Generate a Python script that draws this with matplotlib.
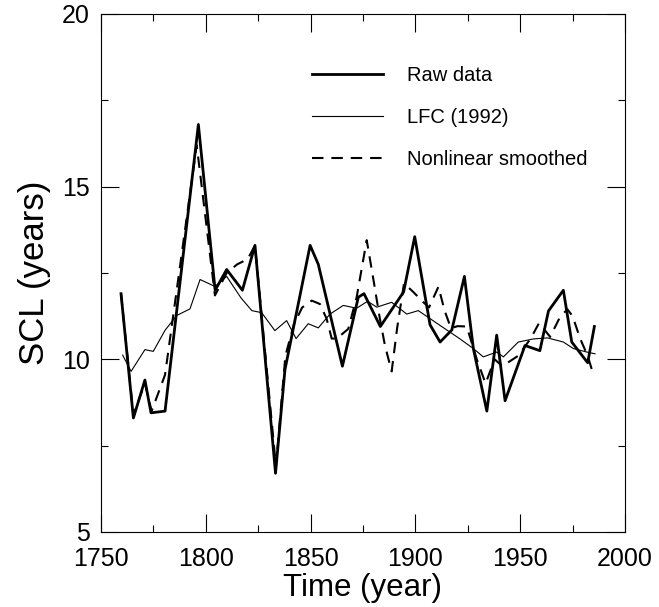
import matplotlib
matplotlib.use("Agg")
import matplotlib.pyplot as plt
from matplotlib.ticker import MultipleLocator

matplotlib.rcParams['font.family'] = ['Liberation Sans', 'DejaVu Sans']

# raw solar cycle length series
raw_year = [1759.6, 1765.5, 1771.0, 1773.9, 1780.6, 1796.5, 1804.5, 1810.0,
            1817.5, 1823.5, 1833.3, 1837.8, 1849.8, 1853.7, 1865.2, 1872.8,
            1875.5, 1883.3, 1894.4, 1899.7, 1907.0, 1911.8, 1917.4, 1923.4,
            1927.7, 1934.1, 1938.8, 1942.8, 1952.3, 1959.4, 1963.5, 1970.6,
            1974.6, 1982.2, 1985.4]
raw = [11.9, 8.3, 9.4, 8.45, 8.5, 16.8, 12.0, 12.6,
       12.0, 13.3, 6.7, 9.7, 13.3, 12.75, 9.8, 11.8,
       11.9, 10.95, 11.95, 13.55, 11.0, 10.5, 10.85, 12.4,
       10.3, 8.5, 10.7, 8.8, 10.4, 10.25, 11.4, 12.0,
       10.5, 9.9, 10.95]

# LFC (1992)
lfc_year = [1760.4, 1764.4, 1771.0, 1775.0, 1780.6, 1786.2, 1792.5, 1797.3,
            1804.4, 1810.0, 1816.8, 1822.0, 1826.7, 1833.0, 1838.6, 1843.1,
            1848.9, 1853.7, 1859.3, 1865.6, 1872.0, 1877.2, 1881.6, 1888.7,
            1895.9, 1901.4, 1911.8, 1921.3, 1927.7, 1932.4, 1938.8, 1942.0,
            1949.1, 1956.3, 1963.0, 1970.6, 1975.4, 1981.8, 1985.7]
lfc = [10.12, 9.65, 10.28, 10.23, 10.84, 11.27, 11.46, 12.31,
       12.11, 12.4, 11.78, 11.41, 11.35, 10.83, 11.12, 10.6,
       11.03, 10.91, 11.31, 11.56, 11.48, 11.68, 11.51, 11.65,
       11.31, 11.41, 10.98, 10.59, 10.31, 10.07, 10.21, 10.07,
       10.5, 10.59, 10.62, 10.5, 10.31, 10.21, 10.16]

# nonlinear smoothed
nls_year = [1759.6, 1765.5, 1771.0, 1774.2, 1780.6, 1795.7, 1804.4, 1810.0,
            1815.0, 1820.0, 1823.5, 1833.5, 1838.0, 1842.0, 1846.0, 1850.6,
            1854.5, 1857.7, 1860.1, 1862.5, 1868.0, 1872.0, 1876.8, 1880.3,
            1883.0, 1885.5, 1888.7, 1891.3, 1894.6, 1899.0, 1903.0, 1906.5,
            1911.0, 1914.0, 1917.0, 1920.1, 1924.5, 1929.3, 1933.5, 1937.8,
            1941.5, 1949.0, 1955.0, 1959.0, 1964.3, 1968.8, 1972.5, 1975.0,
            1978.6, 1982.2, 1984.2]
nls = [11.9, 8.4, 9.3, 8.5, 9.55, 16.2, 11.85, 12.5,
       12.75, 12.9, 13.3, 6.9, 10.1, 11.0, 11.5, 11.7,
       11.6, 11.17, 10.6, 10.6, 10.88, 11.8, 13.45, 12.2,
       11.2, 10.4, 9.65, 10.9, 12.2, 11.95, 11.7, 11.5,
       12.1, 11.4, 10.9, 10.96, 10.95, 10.0, 9.3, 10.0,
       9.8, 10.1, 10.6, 11.05, 10.65, 11.2, 11.45, 11.25,
       10.6, 10.1, 9.7]

fig = plt.figure(figsize=(6.59, 6.07), dpi=100)
ax = fig.add_axes([0.1531, 0.1236, 0.7953, 0.8534])

ax.plot(raw_year, raw, color="black", lw=2.0, label="Raw data")
ax.plot(lfc_year, lfc, color="black", lw=0.8, label="LFC (1992)")
ax.plot(nls_year, nls, color="black", lw=1.5, dashes=(5.5, 3.8),
        label="Nonlinear smoothed")

ax.set_xlim(1750, 2000)
ax.set_ylim(5, 20)
ax.xaxis.set_major_locator(MultipleLocator(50))
ax.xaxis.set_minor_locator(MultipleLocator(25))
ax.yaxis.set_major_locator(MultipleLocator(5))
ax.yaxis.set_minor_locator(MultipleLocator(2.5))

ax.tick_params(which="both", direction="in", top=True, right=True,
               width=0.8, labelsize=18)
ax.tick_params(which="major", length=13)
ax.tick_params(which="minor", length=5)
ax.tick_params(axis="x", which="major", pad=11)
ax.tick_params(axis="y", which="major", pad=8)

for s in ax.spines.values():
    s.set_linewidth(0.8)

ax.set_xlabel("Time (year)", fontsize=22.5, labelpad=1)
ax.set_ylabel("SCL (years)", fontsize=25, labelpad=8)

ax.legend(loc="upper left", bbox_to_anchor=(0.403, 0.90), frameon=False,
          fontsize=14.5, handlelength=3.5, handletextpad=1.2,
          labelspacing=1.15, borderpad=0, borderaxespad=0)

fig.savefig("out.png", dpi=100)
plt.close()
